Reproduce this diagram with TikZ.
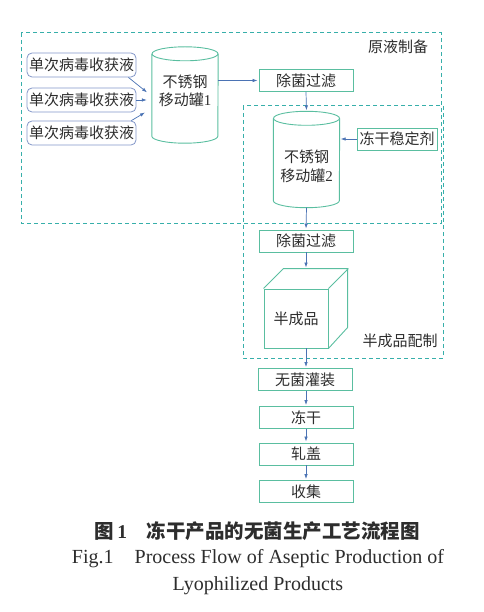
\documentclass[tikz,border=0pt]{standalone}
\usepackage{fontspec}
\setmainfont{Liberation Serif}
\newfontfamily\cjk{Noto Sans CJK SC}
\usetikzlibrary{arrows.meta,calc,positioning}

\definecolor{boxgreen}{RGB}{90,190,160}
\definecolor{dashteal}{RGB}{55,175,170}
\definecolor{flowblue}{RGB}{75,115,180}
\definecolor{inblue}{RGB}{130,150,200}
\definecolor{inktext}{RGB}{45,45,45}

\tikzset{
  txt/.style={font=\cjk\fontsize{15}{18.5}\selectfont, text=inktext, align=center},
  stepbox/.style={txt, draw=boxgreen, line width=0.9pt, minimum width=94pt, minimum height=22pt, inner sep=0pt},
  inbox/.style={txt, draw=inblue, line width=0.8pt, rounded corners=5pt, minimum width=109pt, minimum height=24pt, inner sep=0pt},
  tank/.style={minimum width=66pt, minimum height=96pt, inner sep=0pt},
  tankline/.style={draw=boxgreen, line width=0.9pt},
  zone/.style={draw=dashteal, line width=1pt, dash pattern=on 4pt off 3pt},
  flow/.style={draw=flowblue, line width=0.7pt, -{Latex[length=5pt,width=3.5pt]}, shorten >=1pt}
}

\begin{document}
\begin{tikzpicture}[x=1pt, y=-1pt]
\useasboundingbox (0,0) rectangle (483,612);
% zone tratteggiate
\draw[zone] (21,33) rectangle (441,223);
\draw[zone] (243,106) rectangle (443,358);
\node[txt] (zoneA) at (398,47) {原液制备};
\node[txt] (zoneB) at (400,341) {半成品配制};
% raccolte virali in ingresso
\node[inbox] (in1) at (81.5,65) {单次病毒收获液};
\node[inbox] (in2) at (81.5,100) {单次病毒收获液};
\node[inbox] (in3) at (81.5,133) {单次病毒收获液};
% serbatoi
\node[tank] (tank1) at (185,95) {};
\node[tank] (tank2) at (306.5,159.5) {};
\foreach \t in {tank1,tank2}{
  \draw[tankline] ([yshift=-7pt]\t.north west) -- ([yshift=7pt]\t.south west)
    arc[start angle=180, end angle=360, x radius=33pt, y radius=7pt]
    -- ([yshift=-7pt]\t.north east);
  \draw[tankline] ([yshift=-7pt]\t.north) ellipse [x radius=33pt, y radius=7pt];
}
\node[txt] (tank1txt) at ([yshift=4pt]tank1.center) {不锈钢\\移动罐{\rmfamily 1}};
\node[txt] (tank2txt) at ([yshift=-7pt]tank2.center) {不锈钢\\移动罐{\rmfamily 2}};
% passi del processo
\node[stepbox] (filt1) at (306,80.5) {除菌过滤};
\node[stepbox, minimum width=80pt] (stab) at (397,139) {冻干稳定剂};
\node[stepbox] (filt2) at (306,241) {除菌过滤};
\node[stepbox, minimum width=64pt, minimum height=59pt] (semi) at (296,318.5) {半成品};
\draw[tankline] (semi.north west) -- ++(20,-20) -- ++(64,0) -- ++(0,59) -- (semi.south east)
  (semi.north east) -- ++(20,-20);
\coordinate (semitop) at ($(semi.north)+(0,-20)$);
\node[stepbox] (fill) at (305,379.5) {无菌灌装};
\node[stepbox] (dry) at (306,417.5) {冻干};
\node[stepbox] (cap) at (306,454) {轧盖};
\node[stepbox] (collect) at (306,491.5) {收集};
% collegamenti
\draw[flow] ([xshift=-8pt]in1.south east) -- ([xshift=-4pt,yshift=2pt]tank1.west);
\draw[flow] (in2.east) -- ([xshift=-4pt,yshift=-5pt]tank1.west);
\draw[flow] ([xshift=-5pt]in3.north east) -- ([xshift=-6pt,yshift=-17pt]tank1.west);
\draw[flow] (filt1.west -| tank1.east) -- (filt1.west);
\draw[flow] (filt1.south) -- (tank2.north);
\draw[flow] (stab.west) -- (tank2.east |- stab.west);
\draw[flow] (tank2.south) -- (filt2.north);
\draw[flow] (filt2.south) -- (filt2.south |- semitop);
\draw[flow] (dry.north |- semi.south) -- (dry.north |- fill.north);
\foreach \a/\b in {fill/dry, dry/cap, cap/collect}{
  \draw[flow] (dry.south |- \a.south) -- (dry.north |- \b.north);
}
% didascalia
\node[font=\cjk\bfseries\fontsize{19.5}{22}\selectfont, text=inktext] (title) at (257,531)
  {图\,{\rmfamily\bfseries 1}\hspace{1em}冻干产品的无菌生产工艺流程图};
\node[font=\fontsize{20}{27}\selectfont, text=inktext, align=center] (entitle) at (258,572)
  {Fig.1\hspace{0.8em} Process Flow of Aseptic Production of\\Lyophilized Products};
\end{tikzpicture}
\end{document}
